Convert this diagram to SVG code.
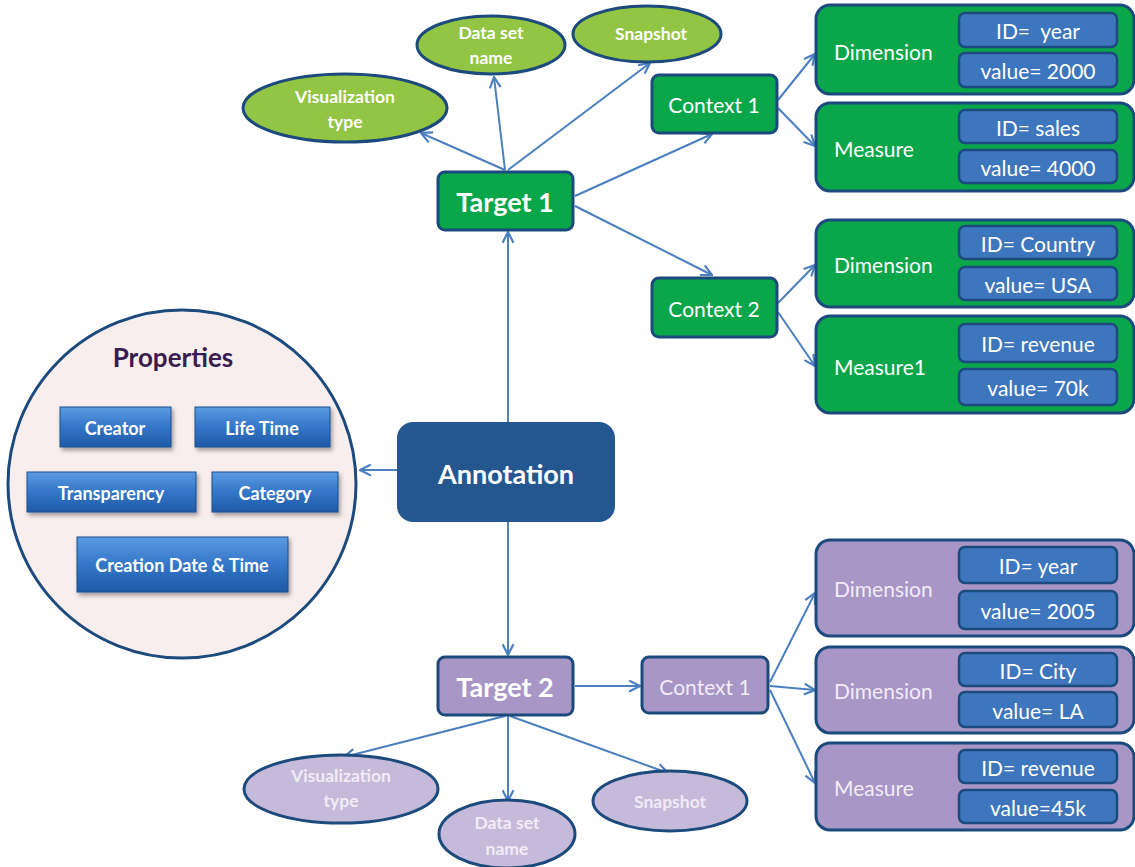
<svg xmlns="http://www.w3.org/2000/svg" width="1135" height="867" viewBox="0 0 1135 867">
<style>
text{font-family:Lato,"Open Sans","Liberation Sans",sans-serif;dominant-baseline:central;text-anchor:middle}
.g{fill:#0aa64a;stroke:#1c4a7d;stroke-width:3}
.p{fill:#a896c6;stroke:#1c4a7d;stroke-width:3}
.lg{fill:#92c543;stroke:#1c4a7d;stroke-width:3}
.lp{fill:#c6badb;stroke:#1c4a7d;stroke-width:3}
.ib{fill:#3e76bd;stroke:#1c4a7d;stroke-width:2.5}
.tw{fill:#fff;font-size:21px}
.tl{fill:#f1ecf6;font-size:21px}
.eb{fill:#fff;font-size:17.5px;font-weight:bold}
.ep{fill:#f1ecf6;font-size:17.5px;font-weight:bold}
.big{fill:#fff;font-size:27px;font-weight:bold}
.btn{fill:url(#bg);stroke:#1d4f8c;stroke-width:1}
.bt{fill:#fff;font-size:18px;font-weight:bold}
.c{fill:none;stroke:#4a7fc0;stroke-width:2;marker-end:url(#ar)}
.lft{text-anchor:start}
</style>
<defs>
<marker id="ar" viewBox="0 0 12 12" refX="11" refY="6" markerWidth="13" markerHeight="13" markerUnits="userSpaceOnUse" orient="auto"><path d="M1,1 L11,6 L1,11" fill="none" stroke="#4a7fc0" stroke-width="2"/></marker>
<linearGradient id="bg" x1="0" y1="0" x2="0" y2="1"><stop offset="0" stop-color="#5b9be0"/><stop offset="0.5" stop-color="#3476c8"/><stop offset="1" stop-color="#1f5aa6"/></linearGradient>
<filter id="sh" x="-10%" y="-10%" width="130%" height="140%"><feDropShadow dx="2" dy="3" stdDeviation="2" flood-color="#000" flood-opacity="0.35"/></filter>
</defs>
<rect width="1135" height="867" fill="#fff"/>

<g id="connectors">
<path class="c" d="M508,422 L508,232"/>
<path class="c" d="M397,470 L360,470"/>
<path class="c" d="M508,522 L508,655"/>
<path class="c" d="M505,170 L421,133"/>
<path class="c" d="M505,170 L494,77"/>
<path class="c" d="M508,170 L650,63"/>
<path class="c" d="M575,196 L712,134"/>
<path class="c" d="M575,206 L712,275"/>
<path class="c" d="M778,100 L815,54"/>
<path class="c" d="M778,108 L815,146"/>
<path class="c" d="M778,303 L815,265"/>
<path class="c" d="M778,312 L815,366"/>
<path class="c" d="M575,686 L640,686"/>
<path class="c" d="M770,682 L815,593"/>
<path class="c" d="M770,686 L815,690"/>
<path class="c" d="M770,690 L815,783"/>
<path class="c" d="M505,716 L344,757"/>
<path class="c" d="M508,716 L508,801"/>
<path class="c" d="M510,716 L668,773"/>
</g>

<g id="properties">
<circle cx="182" cy="484" r="174" fill="#f8eeee" stroke="#1c4a7d" stroke-width="3"/>
<text x="173" y="357" style="fill:#3a1d4f;font-size:26px;font-weight:bold">Properties</text>
<g filter="url(#sh)">
<rect class="btn" x="60" y="407" width="111" height="40"/>
<rect class="btn" x="195" y="407" width="135" height="40"/>
<rect class="btn" x="27" y="472" width="169" height="40"/>
<rect class="btn" x="212" y="472" width="126" height="40"/>
<rect class="btn" x="77" y="537" width="211" height="55"/>
</g>
<text class="bt" x="115" y="428">Creator</text>
<text class="bt" x="262" y="428">Life Time</text>
<text class="bt" x="111" y="493">Transparency</text>
<text class="bt" x="275" y="493">Category</text>
<text class="bt" x="182" y="565">Creation Date &amp; Time</text>
</g>

<g id="annotation">
<rect x="397" y="422" width="218" height="100" rx="16" fill="#24578f"/>
<text class="big" x="506" y="473">Annotation</text>
</g>

<g id="target1">
<rect class="g" x="438" y="172" width="135" height="58" rx="7"/>
<text class="big" x="505" y="201">Target 1</text>
</g>
<g id="vis1">
<ellipse class="lg" cx="345" cy="108" rx="102" ry="34"/>
<text class="eb" x="345" y="96">Visualization</text>
<text class="eb" x="345" y="121">type</text>
</g>
<g id="dataset1">
<ellipse class="lg" cx="491" cy="45" rx="74" ry="29"/>
<text class="eb" x="491" y="32">Data set</text>
<text class="eb" x="491" y="57">name</text>
</g>
<g id="snapshot1">
<ellipse class="lg" cx="647" cy="34" rx="74" ry="28"/>
<text class="eb" x="651" y="33">Snapshot</text>
</g>

<g id="context1">
<rect class="g" x="652" y="75" width="125" height="58" rx="7"/>
<text class="tw" x="714" y="104">Context 1</text>
</g>
<g id="dim1">
<rect class="g" x="816" y="5" width="318" height="89" rx="14"/>
<text class="tw lft" x="834" y="51">Dimension</text>
<rect class="ib" x="959" y="13" width="158" height="34" rx="6"/>
<text class="tw" x="1038" y="30">ID=&#160; year</text>
<rect class="ib" x="959" y="53" width="158" height="34" rx="6"/>
<text class="tw" x="1038" y="70">value= 2000</text>
</g>
<g id="meas1">
<rect class="g" x="816" y="103" width="318" height="88" rx="14"/>
<text class="tw lft" x="834" y="148">Measure</text>
<rect class="ib" x="959" y="110" width="158" height="33" rx="6"/>
<text class="tw" x="1038" y="127">ID= sales</text>
<rect class="ib" x="959" y="150" width="158" height="33" rx="6"/>
<text class="tw" x="1038" y="167">value= 4000</text>
</g>

<g id="context2">
<rect class="g" x="652" y="278" width="125" height="59" rx="7"/>
<text class="tw" x="714" y="308">Context 2</text>
</g>
<g id="dim2">
<rect class="g" x="816" y="220" width="318" height="87" rx="14"/>
<text class="tw lft" x="834" y="264">Dimension</text>
<rect class="ib" x="959" y="226" width="158" height="33" rx="6"/>
<text class="tw" x="1038" y="243">ID= Country</text>
<rect class="ib" x="959" y="267" width="158" height="33" rx="6"/>
<text class="tw" x="1038" y="284">value= USA</text>
</g>
<g id="meas2">
<rect class="g" x="816" y="316" width="318" height="97" rx="14"/>
<text class="tw lft" x="834" y="366">Measure1</text>
<rect class="ib" x="959" y="324" width="158" height="38" rx="6"/>
<text class="tw" x="1038" y="343">ID= revenue</text>
<rect class="ib" x="959" y="369" width="158" height="36" rx="6"/>
<text class="tw" x="1038" y="387">value= 70k</text>
</g>

<g id="target2">
<rect class="p" x="438" y="657" width="135" height="58" rx="7"/>
<text class="big" x="505" y="686">Target 2</text>
</g>
<g id="vis2">
<ellipse class="lp" cx="341" cy="789" rx="97" ry="34"/>
<text class="ep" x="341" y="775">Visualization</text>
<text class="ep" x="341" y="800">type</text>
</g>
<g id="dataset2">
<ellipse class="lp" cx="507" cy="834" rx="68" ry="34"/>
<text class="ep" x="507" y="822">Data set</text>
<text class="ep" x="507" y="848">name</text>
</g>
<g id="snapshot2">
<ellipse class="lp" cx="670" cy="801" rx="77" ry="30"/>
<text class="ep" x="670" y="801">Snapshot</text>
</g>

<g id="context3">
<rect class="p" x="642" y="657" width="126" height="56" rx="7"/>
<text class="tl" x="705" y="686">Context 1</text>
</g>
<g id="dim3">
<rect class="p" x="816" y="540" width="318" height="96" rx="14"/>
<text class="tl lft" x="834" y="588">Dimension</text>
<rect class="ib" x="959" y="547" width="158" height="36" rx="6"/>
<text class="tw" x="1038" y="565">ID= year</text>
<rect class="ib" x="959" y="591" width="158" height="38" rx="6"/>
<text class="tw" x="1038" y="610">value= 2005</text>
</g>
<g id="dim4">
<rect class="p" x="816" y="647" width="318" height="86" rx="14"/>
<text class="tl lft" x="834" y="690">Dimension</text>
<rect class="ib" x="959" y="653" width="158" height="33" rx="6"/>
<text class="tw" x="1038" y="670">ID= City</text>
<rect class="ib" x="959" y="692" width="158" height="35" rx="6"/>
<text class="tw" x="1038" y="710">value= LA</text>
</g>
<g id="meas3">
<rect class="p" x="816" y="743" width="318" height="87" rx="14"/>
<text class="tl lft" x="834" y="787">Measure</text>
<rect class="ib" x="959" y="750" width="158" height="33" rx="6"/>
<text class="tw" x="1038" y="767">ID= revenue</text>
<rect class="ib" x="959" y="790" width="158" height="33" rx="6"/>
<text class="tw" x="1038" y="807">value=45k</text>
</g>
</svg>
